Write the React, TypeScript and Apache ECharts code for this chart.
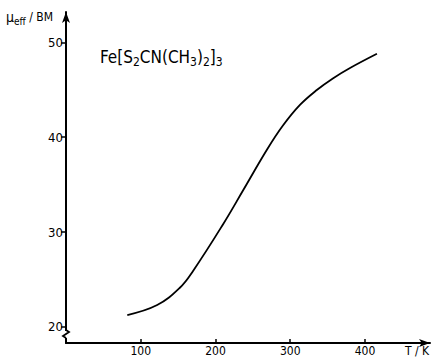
import React, { useEffect, useRef } from "react";
import * as echarts from "echarts";

const temperatures = [82, 122, 152, 170, 210, 237, 269, 290, 313, 336, 357, 380, 416];
const muEff = [21.25, 22.3, 24.1, 25.9, 30.8, 34.4, 38.7, 41.2, 43.4, 45.0, 46.2, 47.3, 48.8];
const xTicks = [100, 200, 300, 400];
const yTicks = [20, 30, 40, 50];

const FONT = "'Liberation Sans Narrow', 'DejaVu Sans Condensed', Roboto, sans-serif";

export default function App() {
  const ref = useRef<HTMLDivElement>(null);
  useEffect(() => {
    if (!ref.current) return;
    const chart = echarts.init(ref.current, null, { renderer: "svg" });
    const data = temperatures.map((t, i) => [t, muEff[i]]);
    chart.setOption({
      animation: false,
      backgroundColor: "#fff",
      grid: { left: 66, right: 4, top: 12, bottom: 14 },
      xAxis: {
        type: "value",
        min: 0,
        max: 487,
        splitLine: { show: false },
        axisLine: {
          lineStyle: { color: "#000", width: 2 },
          symbol: ["none", "arrow"],
          symbolSize: [6, 11],
        },
        axisTick: { inside: true, length: 4, lineStyle: { color: "#000", width: 1.5 }, customValues: xTicks },
        axisLabel: { color: "#000", fontSize: 12, fontFamily: FONT, margin: 2, customValues: xTicks },
      },
      yAxis: {
        type: "value",
        min: 18.3,
        max: 53.2,
        splitLine: { show: false },
        axisLine: {
          lineStyle: { color: "#000", width: 2 },
          symbol: ["none", "arrow"],
          symbolSize: [6, 11],
        },
        axisTick: { inside: false, length: 5, lineStyle: { color: "#000", width: 1.5 }, customValues: yTicks },
        axisLabel: { color: "#000", fontSize: 13, fontFamily: FONT, margin: 3, customValues: yTicks },
      },
      graphic: [
        { type: "rect", shape: { x: 60, y: 331, width: 12, height: 7 }, style: { fill: "#fff" }, z: 100 },
        {
          type: "polyline",
          shape: { points: [[66, 330], [69, 332], [63, 336], [66, 338]] },
          style: { stroke: "#000", lineWidth: 1.8, fill: "none" },
          z: 101,
        },
        {
          type: "text",
          left: 6,
          top: 10,
          style: {
            text: "{mu|μ}{sub|eff}{n| / BM}",
            rich: {
              mu: { fontSize: 14, fontFamily: FONT, fill: "#000" },
              sub: { fontSize: 10, fontFamily: FONT, fill: "#000", padding: [8, 0, 0, 0] },
              n: { fontSize: 12, fontFamily: FONT, fill: "#000" },
            },
          },
        },
        {
          type: "text",
          left: 100,
          top: 48,
          style: {
            text: "{m|Fe[S}{s|2}{m|CN(CH}{s|3}{m|)}{s|2}{m|]}{s|3}",
            rich: {
              m: { fontSize: 17, fontFamily: FONT, fill: "#000" },
              s: { fontSize: 12, fontFamily: FONT, fill: "#000", padding: [10, 0, 0, 0] },
            },
          },
        },
        {
          type: "text",
          x: 405,
          y: 345,
          style: { text: "T / K", fontSize: 12, fontFamily: FONT, fill: "#000" },
        },
      ],
      series: [
        {
          type: "line",
          data,
          smooth: 0.4,
          showSymbol: false,
          lineStyle: { color: "#000", width: 1.8 },
        },
      ],
    });
    return () => chart.dispose();
  }, []);
  return (
    <div
      ref={ref}
      style={{ position: "fixed", left: 0, top: 0, width: 434, height: 357 }}
    />
  );
}
